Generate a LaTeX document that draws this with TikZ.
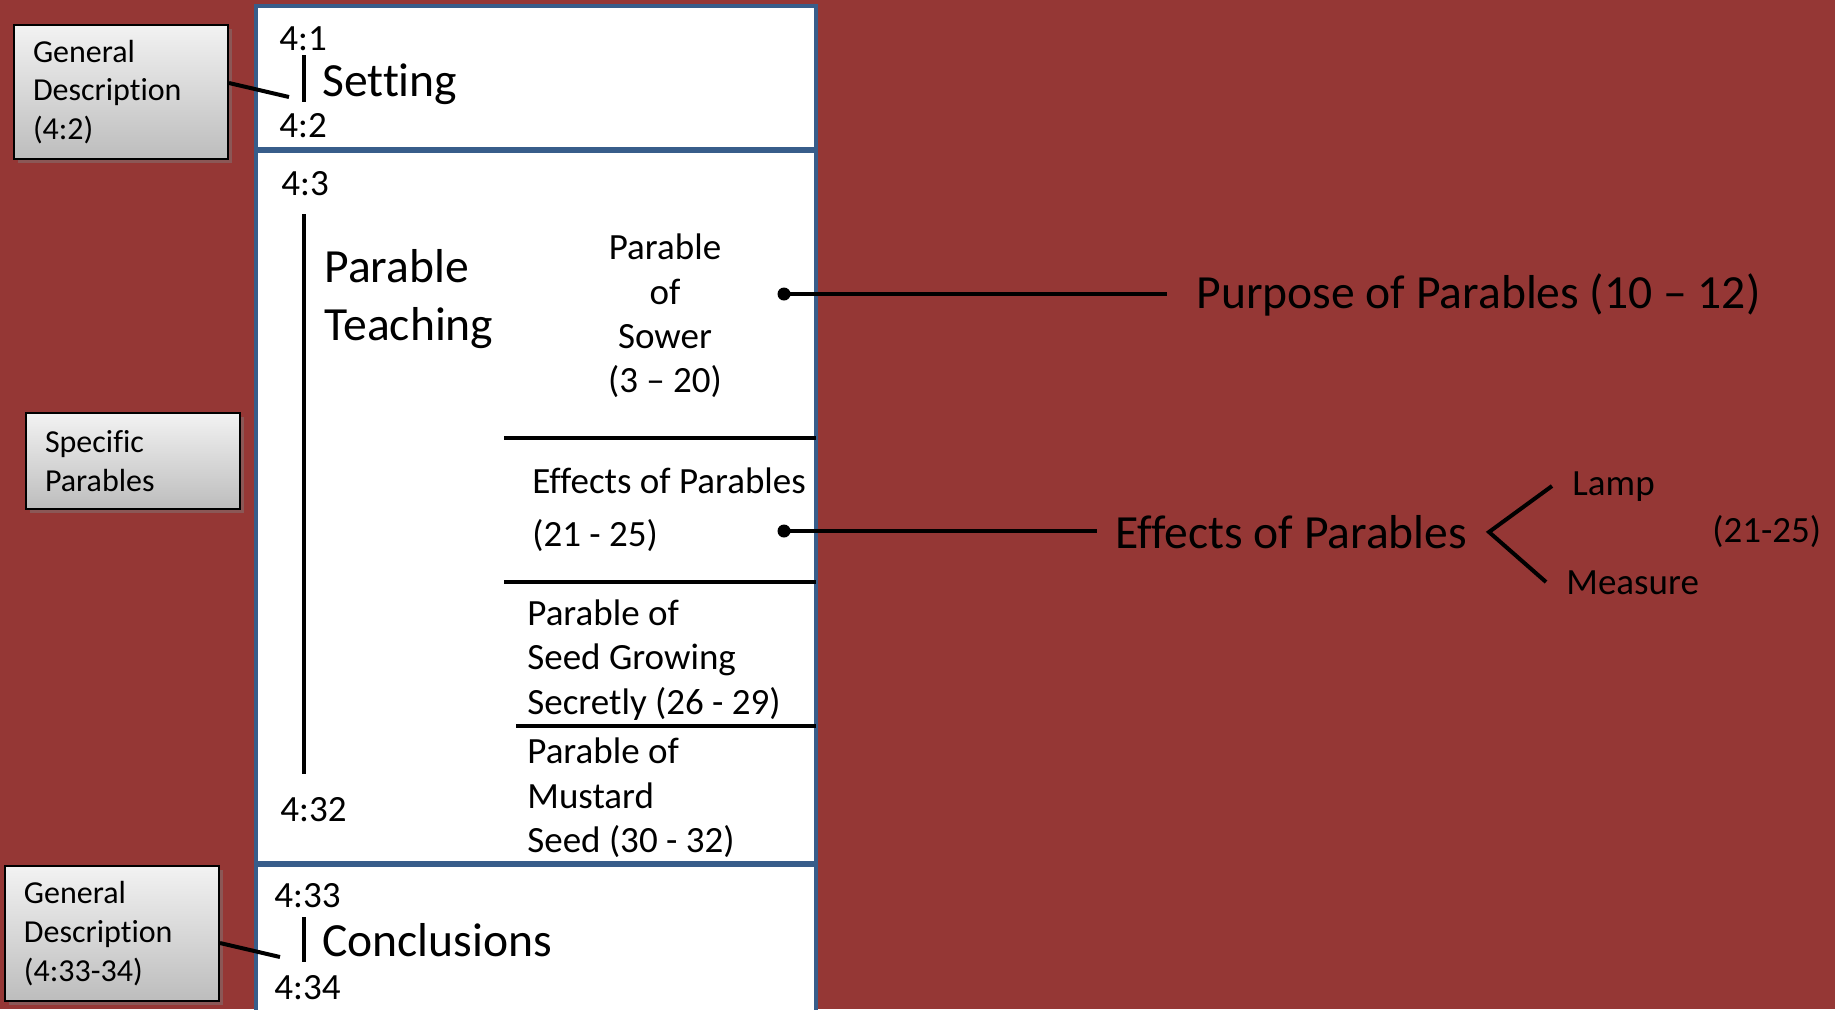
\documentclass[tikz,border=0pt]{standalone}
\usepackage{fontspec}
\setmainfont{Carlito}[Ligatures={TeX,NoCommon}]
\usetikzlibrary{shadows}
\definecolor{bg}{RGB}{149,55,53}
\definecolor{bord}{RGB}{56,93,138}
\tikzset{
 big/.style={font=\fontsize{23.8}{28.8}\selectfont, inner sep=0pt, anchor=west},
 mid/.style={font=\fontsize{18.5}{22.2}\selectfont, inner sep=0pt, anchor=west},
 graybox/.style={draw=black, line width=1pt, top color=white!95!black, bottom color=white!74!black,
   minimum width=107pt, text width=88pt, inner xsep=9.5pt, inner ysep=0pt, align=left,
   font=\fontsize{16}{19.3}\selectfont,
   drop shadow={shadow xshift=2pt, shadow yshift=-2pt, opacity=0.45}},
 panel/.style={draw=bord, line width=2pt, fill=white},
 rulel/.style={line width=2pt, black},
 link/.style={line width=2pt, black},
 dot/.style={circle, fill=black, minimum size=6.5pt, inner sep=0pt},
}
\begin{document}
\begin{tikzpicture}[x=0.5pt,y=-0.5pt]
\useasboundingbox (0,0) rectangle (1835,1009);
\fill[bg] (0,0) rectangle (1835,1009);
\begin{scope}
\clip (0,0) rectangle (1835,1009);
% panels
\draw[panel] (256,6) rectangle (816,149);
\draw[panel] (256,151) rectangle (816,863);
\draw[panel] (256,865) rectangle (816,1030);
\end{scope}
% dividers
\draw[rulel] (504,438) -- (816,438);
\draw[rulel] (504,582) -- (816,582);
\draw[rulel] (516,726) -- (816,726);
% bars
\coordinate (s1) at (304,55); \coordinate (s2) at (304,102);
\coordinate (t1) at (304,214); \coordinate (t2) at (304,774);
\coordinate (k1) at (304,917); \coordinate (k2) at (304,962);
\draw[rulel] (s1) -- (s2);
\draw[rulel] (t1) -- (t2);
\draw[rulel] (k1) -- (k2);
% left column labels
\node[mid] (v41) at (279,39) {4:1};
\node[mid] (v42) at (279,126) {4:2};
\node[big] (setting) at (322,84) {Setting};
\node[mid] (v43) at (281,184) {4:3};
\node[big, align=left] (teach) at (324,299) {Parable\\Teaching};
\node[mid] (v432) at (280,810) {4:32};
\node[mid] (v433) at (274,896) {4:33};
\node[big] (concl) at (322,940) {Conclusions};
\node[mid] (v434) at (274,988) {4:34};
% right column inside
\node[mid, anchor=center, align=center] (sower) at (665,316) {Parable\\of\\Sower\\(3 – 20)};
\node[mid] (eff1) at (532,481) {Effects of Parables};
\node[mid] (eff2) at (532,536) {(21 - 25)};
\node[mid, align=left] (seed) at (527,660) {Parable of\\Seed Growing\\Secretly (26 - 29)};
\node[mid, align=left] (must) at (527,798) {Parable of\\Mustard\\Seed (30 - 32)};
% dots and outward links
\node[dot] (d1) at (784,294) {};
\node[dot] (d2) at (784,531) {};
\node[big] (purpose) at (1196,295) {Purpose of Parables (10 – 12)};
\node[big] (effbig) at (1115,532) {Effects of Parables};
\coordinate (p1) at (1167,294);
\coordinate (p2) at (1097,531);
\draw[link] (d1.center) -- (p1);
\draw[link] (d2.center) -- (p2);
% bracket
\node[mid] (lamp) at (1572,487) {Lamp};
\node[mid] (measure) at (1566,583) {Measure};
\node[mid] (range) at (1712,532) {(21-25)};
\coordinate (bt) at (1489,532);
\coordinate (bl) at (1552,486);
\coordinate (bm) at (1546,582);
\draw[link] (bl) -- (bt) -- (bm);
% gray boxes
\node[graybox, minimum height=67pt] (gd1) at (121,92) {General\\Description\\(4:2)};
\node[graybox, minimum height=48pt] (sp) at (133,461) {Specific\\Parables};
\node[graybox, minimum height=67.5pt] (gd2) at (112,933.5) {General\\Description\\(4:33-34)};
\coordinate (c1) at (289,97);
\coordinate (c2) at (280,957);
\draw[link] ([yshift=4.5pt]gd1.east) -- (c1);
\draw[link] ([yshift=-4.75pt]gd2.east) -- (c2);
\end{tikzpicture}
\end{document}
